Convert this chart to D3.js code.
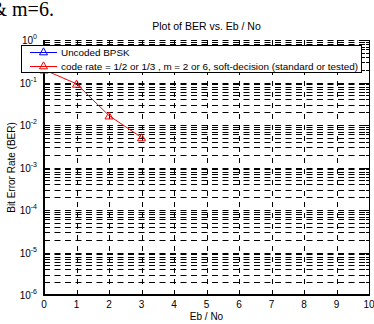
<!DOCTYPE html>
<html>
<head>
<meta charset="utf-8">
<script src="https://cdn.jsdelivr.net/npm/d3@7"></script>
<style>
  body { margin: 0; background: #fff; }
  svg text { font-family: "Liberation Sans", Arial, sans-serif; fill: #000; }
</style>
</head>
<body>
<div id="chart"></div>
<script>
/**
 * Data
 */
const ebNo = [0, 1, 2, 3];
const berCoded = [0.2, 0.093, 0.0166, 0.0051];
// the uncoded curve is in the legend but nothing of it shows in the plot
const ebNoUncoded = [];
const berUncoded = [];
const xTicks = [0, 1, 2, 3, 4, 5, 6, 7, 8, 9, 10];
const yExponents = [0, -1, -2, -3, -4, -5, -6];
const legendLabels = ["Uncoded BPSK", "code rate = 1/2 or 1/3 , m = 2 or 6, soft-decision (standard or tested)"];
const legendColors = ["#0000ff", "#ff0000"];

const width = 374, height = 324,
    margin = { top: 40, bottom: 29, left: 44, right: 5 };

const svg = d3.select("#chart").append("svg")
    .attr("width", width)
    .attr("height", height);

// the clipped sentence left over from the document above the figure
svg.append("text")
    .attr("x", -8.5).attr("y", 16)
    .style("font-family", "'Liberation Serif', 'Times New Roman', serif")
    .style("font-size", "20px")
    .text("& m=6.");

const xScale = d3.scaleLinear().domain([0, 10]).range([margin.left, width - margin.right]);
const yScale = d3.scaleLog().domain([1e-6, 1]).range([height - margin.bottom, margin.top]);

const x0 = xScale.range()[0], x1 = xScale.range()[1];
const y0 = yScale.range()[0], y1 = yScale.range()[1];

// every log tick: 1..9 x 10^k
const minorVals = [];
for (let e = -6; e < 0; e++) {
    for (let k = 1; k <= 9; k++) minorVals.push(k * Math.pow(10, e));
}
minorVals.push(1);

// GRID
const grid = svg.append("g").attr("class", "grid")
    .attr("stroke", "#000").attr("stroke-width", 1)
    .attr("stroke-dasharray", "6,4.5");

grid.selectAll("line.h")
    .data(minorVals)
    .join("line")
    .attr("class", "h")
    .attr("x1", x0).attr("x2", x1)
    .attr("y1", d => Math.round(yScale(d)) + 0.5)
    .attr("y2", d => Math.round(yScale(d)) + 0.5);

grid.selectAll("line.v")
    .data(xTicks.slice(1, -1))
    .join("line")
    .attr("class", "v")
    .attr("x1", d => Math.round(xScale(d)) + 0.5)
    .attr("x2", d => Math.round(xScale(d)) + 0.5)
    .attr("y1", y0).attr("y2", y1)
    .attr("stroke-dasharray", "5,6");

// TICKS (inward, all four sides)
const ticks = svg.append("g").attr("stroke", "#000").attr("stroke-width", 1);
minorVals.forEach(v => {
    const yy = Math.round(yScale(v)) + 0.5;
    const len = Math.abs(Math.log10(v) % 1) < 1e-9 ? 5 : 3;
    ticks.append("line").attr("x1", x0).attr("x2", x0 + len).attr("y1", yy).attr("y2", yy);
    ticks.append("line").attr("x1", x1).attr("x2", x1 - len).attr("y1", yy).attr("y2", yy);
});
xTicks.forEach(v => {
    const xx = Math.round(xScale(v)) + 0.5;
    ticks.append("line").attr("x1", xx).attr("x2", xx).attr("y1", y0).attr("y2", y0 - 5);
    ticks.append("line").attr("x1", xx).attr("x2", xx).attr("y1", y1).attr("y2", y1 + 5);
});

// BOX
svg.append("line").attr("x1", x1 + 0.5).attr("x2", x1 + 0.5).attr("y1", y1).attr("y2", y0)
    .attr("stroke", "#000").attr("stroke-width", 1);
svg.append("line").attr("x1", x0).attr("x2", x1 + 1).attr("y1", y0).attr("y2", y0)
    .attr("stroke", "#000").attr("stroke-width", 2);
svg.append("line").attr("x1", x0).attr("x2", x0).attr("y1", y1).attr("y2", y0 + 1)
    .attr("stroke", "#000").attr("stroke-width", 2);

// TICK LABELS
svg.append("g").selectAll("text")
    .data(xTicks)
    .join("text")
    .attr("x", d => xScale(d))
    .attr("y", y0 + 13)
    .attr("text-anchor", "middle")
    .style("font-size", "10px")
    .text(d => d);

const yl = svg.append("g").selectAll("text")
    .data(yExponents)
    .join("text")
    .attr("x", x0 - 7)
    .attr("y", d => yScale(Math.pow(10, d)) + 4)
    .attr("text-anchor", "end")
    .style("font-size", "10px");
yl.append("tspan").text("10");
yl.append("tspan").attr("dy", -5).style("font-size", "7px").text(d => d);

// AXIS TITLES
svg.append("text")
    .attr("x", (x0 + x1) / 2).attr("y", 30)
    .attr("text-anchor", "middle")
    .style("font-size", "10.5px")
    .text("Plot of BER vs. Eb / No");

svg.append("text")
    .attr("x", (x0 + x1) / 2).attr("y", 320)
    .attr("text-anchor", "middle")
    .style("font-size", "10px")
    .text("Eb / No");

svg.append("text")
    .attr("transform", `translate(15, ${(y0 + y1) / 2}) rotate(-90)`)
    .attr("text-anchor", "middle")
    .style("font-size", "10px")
    .text("Bit Error Rate (BER)");

// SERIES
const lineFunc = d3.line().x(d => xScale(d[0])).y(d => yScale(d[1]));
const tri = d3.symbol().type(d3.symbolTriangle).size(28);

const series = [
    { pts: d3.zip(ebNoUncoded, berUncoded), color: legendColors[0] },
    { pts: d3.zip(ebNo, berCoded), color: legendColors[1] }
];
series.forEach(s => {
    svg.append("path")
        .datum(s.pts)
        .attr("fill", "none")
        .attr("stroke", s.color)
        .attr("stroke-width", 1)
        .attr("d", lineFunc);
    svg.append("g").selectAll("path")
        .data(s.pts)
        .join("path")
        .attr("transform", d => `translate(${xScale(d[0])},${yScale(d[1]) + 1})`)
        .attr("d", tri)
        .attr("fill", "none")
        .attr("stroke", s.color);
});

// LEGEND
const legend = svg.append("g");
legend.append("rect")
    .attr("x", 21.5).attr("y", 45.5)
    .attr("width", 340).attr("height", 27)
    .attr("fill", "#fff").attr("stroke", "#000");
const rows = legend.selectAll("g.row")
    .data(legendLabels)
    .join("g")
    .attr("class", "row")
    .attr("transform", (d, i) => `translate(0, ${52.5 + i * 14})`);
rows.append("line")
    .attr("x1", 30).attr("x2", 57).attr("y1", 0).attr("y2", 0)
    .attr("stroke", (d, i) => legendColors[i]);
rows.append("path")
    .attr("transform", "translate(43.5, 0)")
    .attr("d", tri)
    .attr("fill", "none")
    .attr("stroke", (d, i) => legendColors[i]);
rows.append("text")
    .attr("x", 61).attr("y", 3.5)
    .style("font-size", "9.9px")
    .text(d => d);
</script>
</body>
</html>
